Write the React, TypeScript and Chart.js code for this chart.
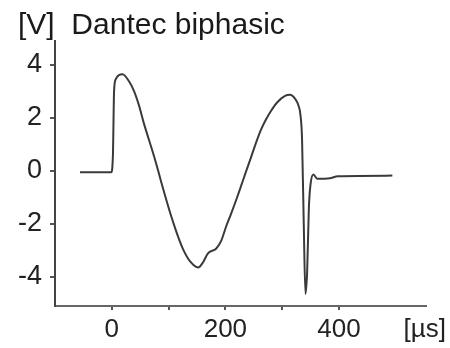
import React, { useEffect, useRef } from "react";
import { Chart, registerables } from "chart.js";

Chart.register(...registerables);

// time in microseconds
const timeUs = [-56, -1, 2, 4, 7, 19, 30, 39, 48, 56, 65, 74, 83, 88, 94, 103, 109, 117, 126, 138, 152, 161, 169, 184, 193, 201, 210, 219, 228, 236, 245, 253, 262, 271, 280, 291, 305, 314, 323, 329, 332, 335, 338, 341, 344, 347, 350, 355, 362, 384, 398, 494];
// voltage
const voltage = [-0.05, -0.05, 0.6, 3.0, 3.46, 3.65, 3.39, 3.02, 2.46, 1.83, 1.2, 0.58, -0.1, -0.5, -0.95, -1.6, -2.0, -2.5, -2.98, -3.42, -3.65, -3.44, -3.12, -2.93, -2.62, -2.12, -1.62, -1.1, -0.55, -0.05, 0.5, 1.0, 1.52, 1.92, 2.25, 2.58, 2.83, 2.87, 2.71, 2.45, 2.14, 1.2, -2.0, -4.65, -3.8, -1.4, -0.5, -0.14, -0.3, -0.28, -0.2, -0.18];

const yTicks = [-4, -2, 0, 2, 4];
const xTicks = [0, 100, 200, 300, 400, 551];
const xLabels = ["0", "", "200", "", "400", "[µs]"];
const titleText = "[V]  Dantec biphasic";

const FONT = "'Liberation Sans', Arial, sans-serif";

export default function App() {
  const ref = useRef<HTMLCanvasElement | null>(null);

  useEffect(() => {
    if (!ref.current) return;
    const chart = new Chart(ref.current, {
      type: "line",
      data: {
        datasets: [
          {
            data: timeUs.map((t, i) => ({ x: t, y: voltage[i] })),
            borderColor: "#3a3a3a",
            borderWidth: 2,
            pointRadius: 0,
            cubicInterpolationMode: "monotone",
            fill: false,
          },
        ],
      },
      options: {
        responsive: false,
        animation: false,
        devicePixelRatio: 1,
        layout: { padding: { left: 18, right: 21, top: 0, bottom: 0 } },
        plugins: {
          legend: { display: false },
          tooltip: { enabled: false },
          title: {
            display: true,
            text: titleText,
            align: "start",
            color: "#1a1a1a",
            font: { family: FONT, size: 30, weight: "normal", lineHeight: 1 },
            padding: { top: 11, bottom: 0 },
          },
        },
        scales: {
          x: {
            type: "linear",
            min: -100,
            max: 553,
            afterFit: (s: any) => {
              s.height = 42;
            },
            afterBuildTicks: (s: any) => {
              s.ticks = xTicks.map((value) => ({ value }));
            },
            ticks: {
              autoSkip: false,
              maxRotation: 0,
              padding: 4,
              color: "#222",
              font: { family: FONT, size: 26 },
              callback: (v: any) => {
                const i = xTicks.indexOf(Number(v));
                return i >= 0 ? xLabels[i] : "";
              },
            },
            grid: {
              drawOnChartArea: false,
              drawTicks: true,
              tickLength: 4,
              lineWidth: 2,
              color: (ctx: any) => (ctx.tick && ctx.tick.value === 551 ? "rgba(0,0,0,0)" : "#555"),
            },
            border: { display: true, color: "#666", width: 2 },
          },
          y: {
            type: "linear",
            min: -5.1,
            max: 4.9,
            afterFit: (s: any) => {
              s.width = 37;
            },
            afterBuildTicks: (s: any) => {
              s.ticks = yTicks.map((value) => ({ value }));
            },
            ticks: {
              padding: 8,
              color: "#222",
              font: { family: FONT, size: 27 },
              callback: (v: any) => String(v),
            },
            grid: {
              drawOnChartArea: false,
              drawTicks: true,
              tickLength: 5,
              lineWidth: 2,
              color: "#555",
            },
            border: { display: true, color: "#444", width: 2 },
          },
        },
      },
    });
    return () => chart.destroy();
  }, []);

  return (
    <div style={{ position: "absolute", left: 0, top: 0, width: 450, height: 348, background: "#fff" }}>
      <canvas ref={ref} width={450} height={348} />
    </div>
  );
}
